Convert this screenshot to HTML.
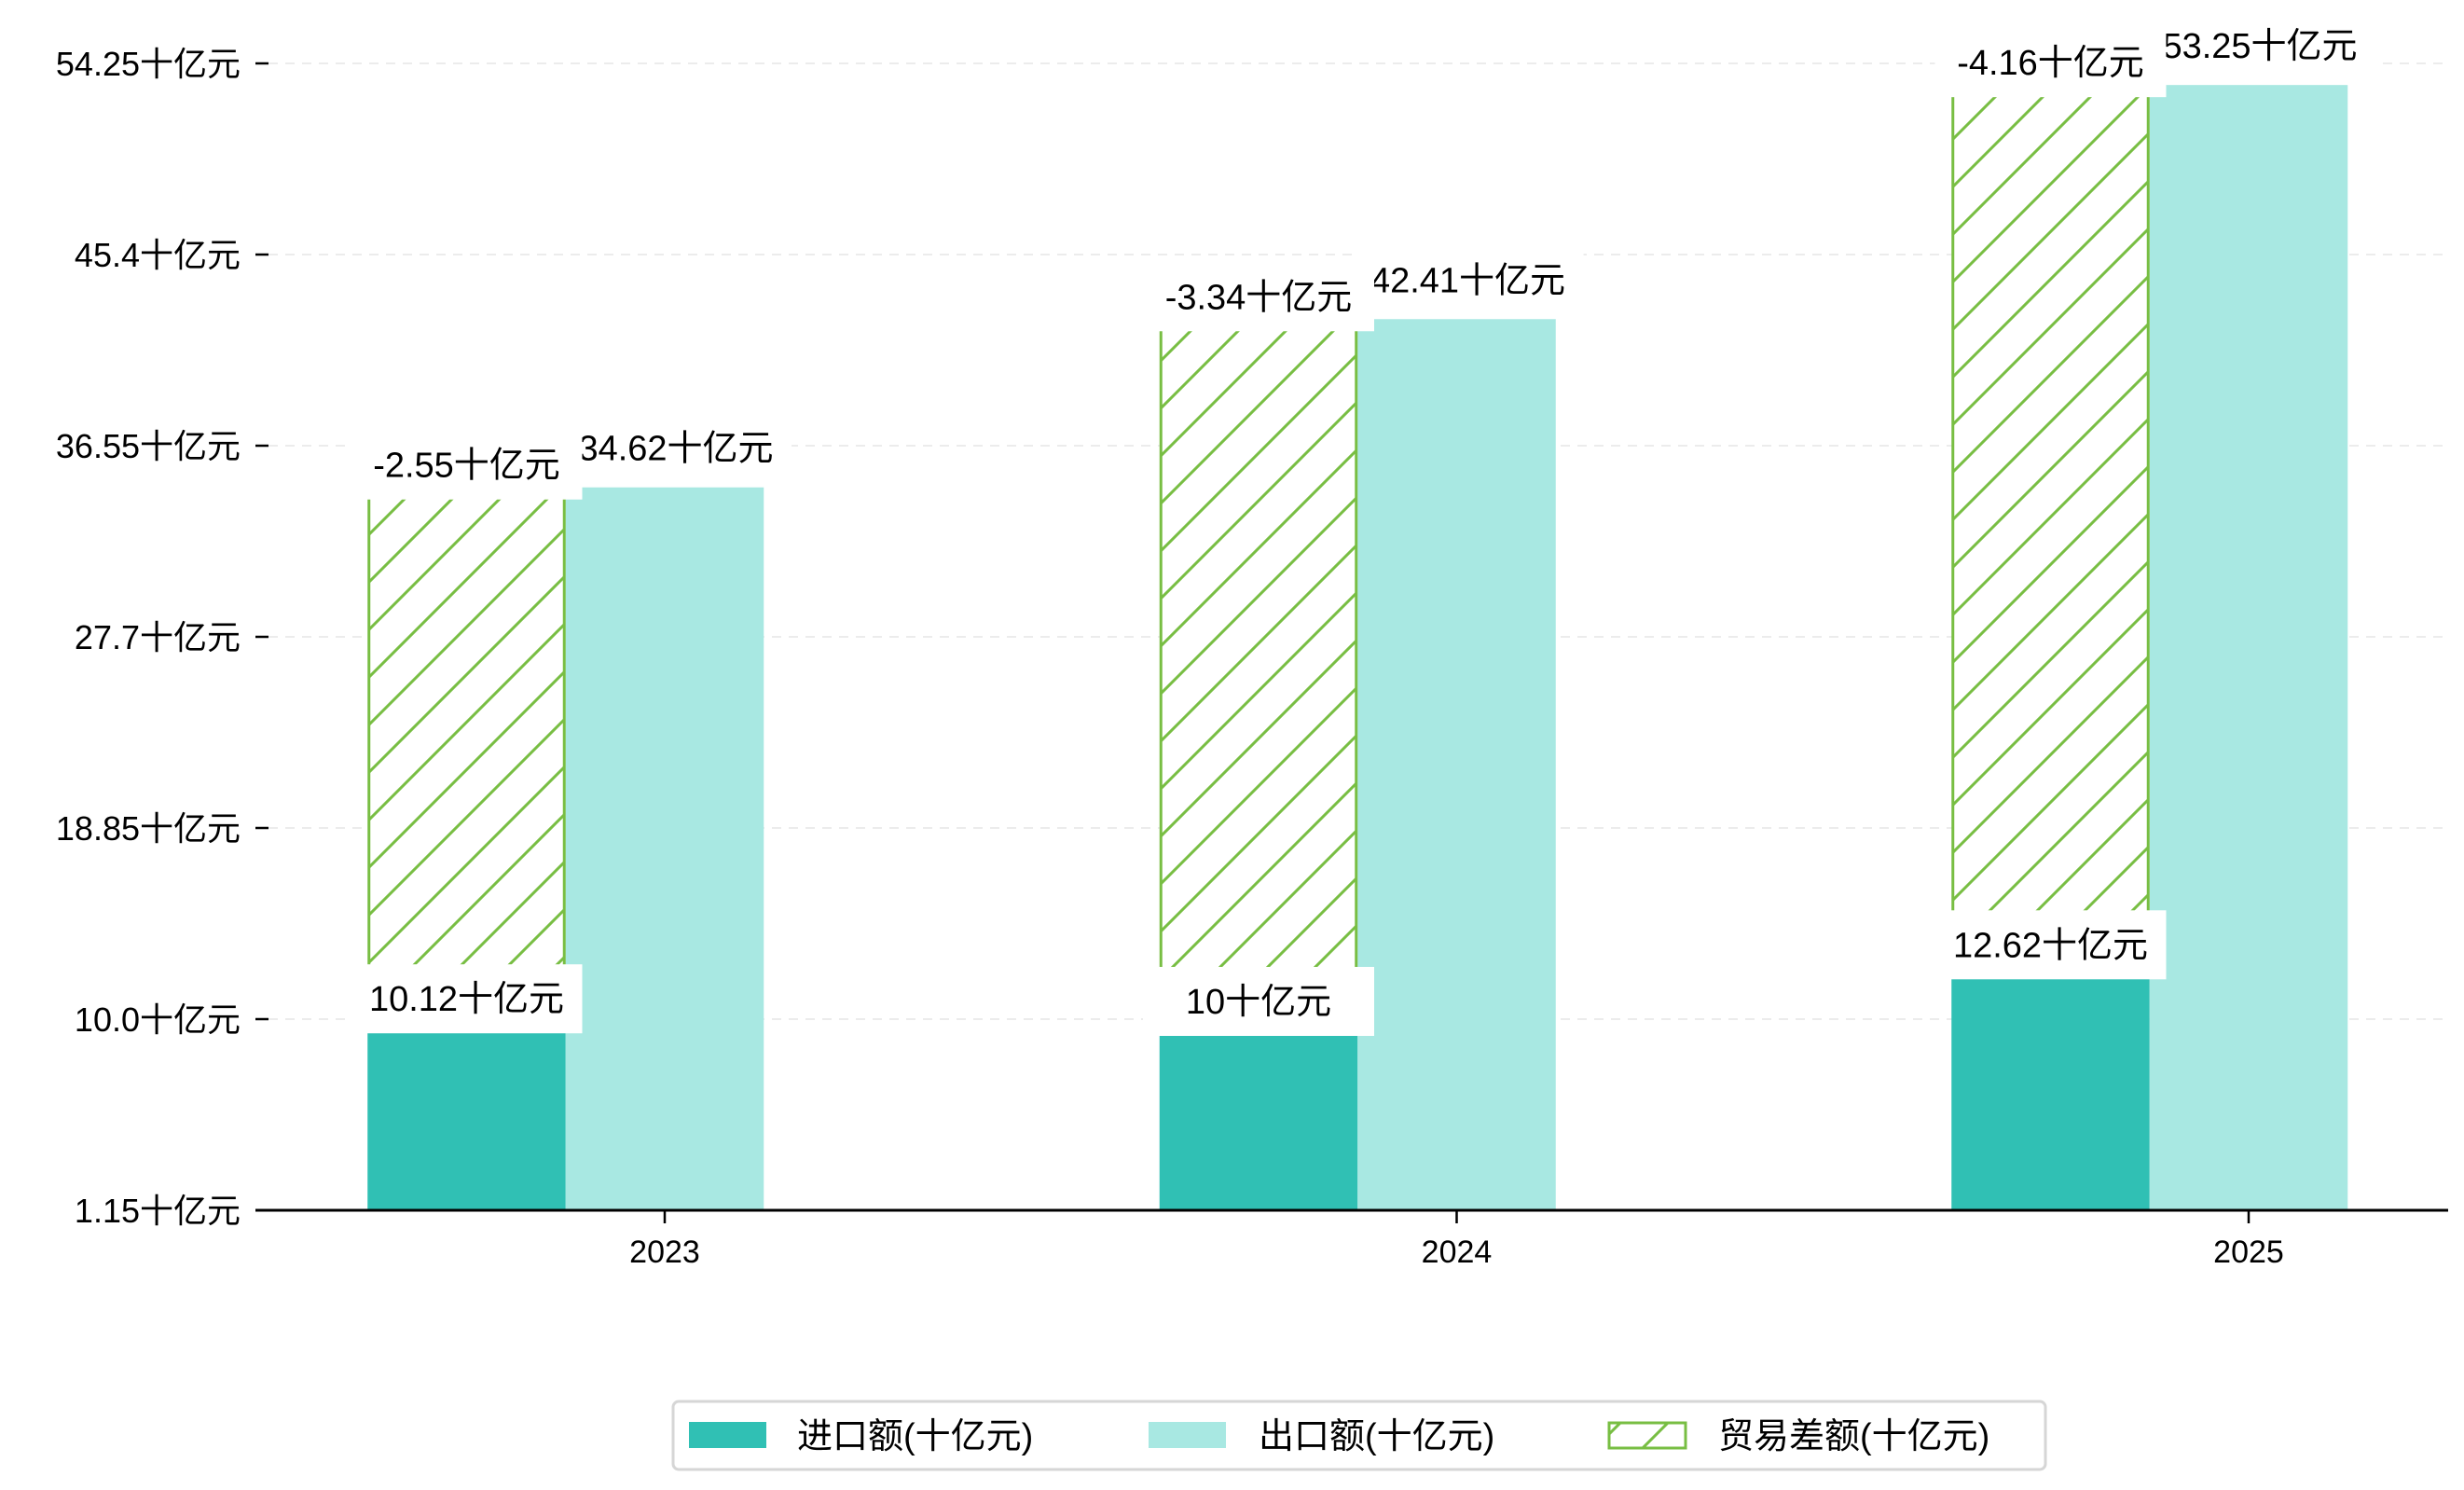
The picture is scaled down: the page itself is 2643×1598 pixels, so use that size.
<!DOCTYPE html>
<html><head><meta charset="utf-8"><style>
html,body{margin:0;padding:0;background:#fff;}
svg{display:block;font-family:"Liberation Sans","WenQuanYi Zen Hei","Noto Sans CJK SC",sans-serif;}
</style></head><body>
<svg id="chart" width="2643" height="1598" viewBox="0 0 2643 1598" xmlns="http://www.w3.org/2000/svg">
<defs>
<pattern id="hatch" patternUnits="userSpaceOnUse" width="51" height="51">
<rect width="51" height="51" fill="#fff"/>
<path d="M-13,13 L13,-13 M0,51 L51,0 M38,64 L64,38" stroke="#78BE43" stroke-width="3"/>
</pattern>
</defs>
<g id="grid"></g>
<g id="bars"></g>
<g id="labels"></g>
<g id="axes"></g>
<g id="legend">
<rect x="722" y="1503" width="1472" height="73" rx="6" fill="#fff" stroke="#d6d6d6" stroke-width="3"/>
<g>
<rect x="739" y="1525" width="83" height="28" fill="#30C0B4"/>
<text x="855" y="1553" font-size="38">进口额(十亿元)</text>
</g>
<g>
<rect x="1232" y="1525" width="83" height="28" fill="#A8E8E2"/>
<text x="1350" y="1553" font-size="38">出口额(十亿元)</text>
</g>
<g>
<rect x="1726" y="1526" width="82" height="27" fill="url(#hatch)" stroke="#78BE43" stroke-width="3"/>
<text x="1843" y="1553" font-size="38">贸易差额(十亿元)</text>
</g>
</g>
</svg>
<script>
const categories = ["2023","2024","2025"];
const importValues = [10.12, 10.0, 12.62];
const exportValues = [34.62, 42.41, 53.25];
const balanceHeights = [24.5, 32.41, 40.63];
const balanceLabels = ["-2.55", "-3.34", "-4.16"];
const yTicks = [1.15, 10.0, 18.85, 27.7, 36.55, 45.4, 54.25];
const yTickLabels = ["1.15","10.0","18.85","27.7","36.55","45.4","54.25"];

const NS = "http://www.w3.org/2000/svg";
const plotLeft = 274, plotRight = 2626, yBottom = 1298;
const yMin = 1.15, pxPerUnit = 205 / 8.85;
const y = v => yBottom - (v - yMin) * pxPerUnit;
const x0 = 713, step = 849.5, bw = 212.5;
const xc = i => x0 + i * step;
function mk(tag, attrs, parent){ const e=document.createElementNS(NS,tag); for(const k in attrs) e.setAttribute(k,attrs[k]); parent.appendChild(e); return e; }
const grid=document.getElementById('grid'), bars=document.getElementById('bars'), labels=document.getElementById('labels'), axes=document.getElementById('axes');

yTicks.forEach((t,i)=>{
  const yy=y(t);
  if(i>0){ const g=mk('line',{x1:288,x2:plotRight,y1:yy,y2:yy,stroke:'#ececec','stroke-width':2,'stroke-dasharray':'10,8'},grid);
  
   }
  const tk=mk('line',{x1:274,x2:288,y1:yy,y2:yy,stroke:'#000','stroke-width':2.5},axes);
  
  
  const tl=mk('text',{x:258,y:yy+13,'font-size':36,'text-anchor':'end'},axes);
  tl.textContent=yTickLabels[i]+'十亿元';
  
  
});

const base=y(yMin);
categories.forEach((c,i)=>{
  const cx=xc(i);
  const ib=mk('rect',{x:cx-1.5*bw,y:y(importValues[i]),width:bw,height:base-y(importValues[i]),fill:'#30C0B4'},bars);
  
  
  const eb=mk('rect',{x:cx-0.5*bw,y:y(exportValues[i]),width:bw,height:base-y(exportValues[i]),fill:'#A8E8E2'},bars);
  
  
  const top=importValues[i]+balanceHeights[i];
  const hb=mk('rect',{x:cx-1.5*bw+1.5,y:y(top),width:bw-3,height:y(importValues[i])-y(top),fill:'url(#hatch)',stroke:'#78BE43','stroke-width':3},bars);
  
  
});

function label(cx, cy, txt, name){
  const g=mk('g',{},labels);
  
  
  mk('rect',{x:cx-124,y:cy-37,width:248,height:74,fill:'#fff'},g);
  const t=mk('text',{x:cx,y:cy+13,'font-size':38,'text-anchor':'middle'},g);
  t.textContent=txt;
}
categories.forEach((c,i)=>{
  const cx=xc(i);
  label(cx-bw, y(importValues[i])-19, importValues[i]+'十亿元', 'label-import-'+c);
});
categories.forEach((c,i)=>{
  const cx=xc(i);
  label(cx+12, y(exportValues[i])-42, exportValues[i]+'十亿元', 'label-export-'+c);
});
categories.forEach((c,i)=>{
  const cx=xc(i);
  label(cx-bw, y(importValues[i]+balanceHeights[i])-24, balanceLabels[i]+'十亿元', 'label-balance-'+c);
});

const sp=mk('line',{x1:plotLeft,x2:plotRight,y1:yBottom,y2:yBottom,stroke:'#000','stroke-width':3},axes);


categories.forEach((c,i)=>{
  const cx=xc(i);
  const tk=mk('line',{x1:cx,x2:cx,y1:yBottom,y2:yBottom+14,stroke:'#000','stroke-width':2.5},axes);
  
  
  const t=mk('text',{x:cx,y:1354,'font-size':34,'text-anchor':'middle'},axes);
  t.textContent=c;
  
  
});
</script>
</body></html>
